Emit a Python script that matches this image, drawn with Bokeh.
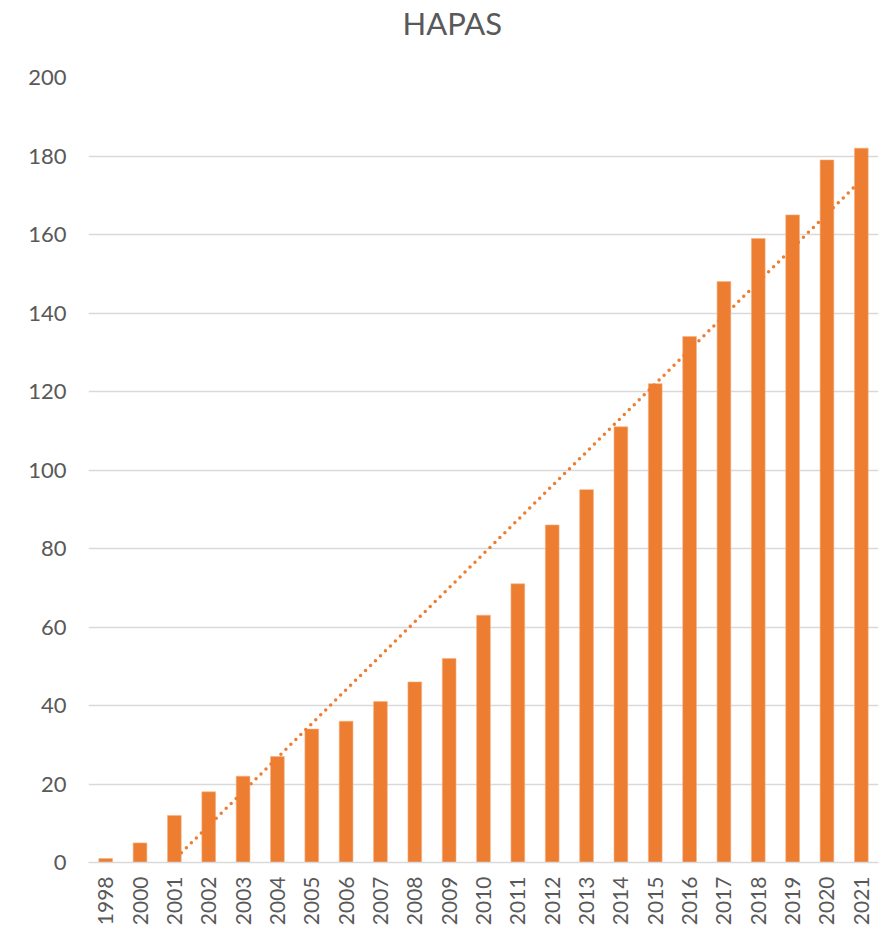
import numpy as np
from bokeh.plotting import figure
from bokeh.models import FixedTicker, ColumnDataSource, Range1d, Title
from bokeh.embed import file_html
from bokeh.resources import INLINE

years = ["1998", "2000", "2001", "2002", "2003", "2004", "2005", "2006", "2007", "2008",
         "2009", "2010", "2011", "2012", "2013", "2014", "2015", "2016", "2017", "2018",
         "2019", "2020", "2021"]
values = [1, 5, 12, 18, 22, 27, 34, 36, 41, 46, 52, 63, 71, 86, 95, 111, 122, 134, 148,
          159, 165, 179, 182]
y_ticks = [0, 20, 40, 60, 80, 100, 120, 140, 160, 180, 200]
title_text = "HAPAS"

ORANGE = "#ED7D31"
TEXT = "#595959"
GRID = "#D9D9D9"
FONT = "Lato"

xs = np.arange(1, len(years) + 1)
p = figure(width=892, height=928, output_backend="svg", toolbar_location=None, title=None,
           x_range=Range1d(0.5, len(years) + 0.5), y_range=Range1d(0, 200),
           min_border_left=88, min_border_right=14, min_border_top=77)

# spacer between plot area and title (closest to the frame), then the title itself
p.add_layout(Title(text=" ", text_font=FONT, text_font_size="10px", standoff=22), "above")
p.add_layout(Title(text=title_text, text_font=FONT, text_font_size="31px",
                   text_font_style="normal", text_color=TEXT, align="left", offset=314,
                   standoff=0), "above")

src = ColumnDataSource(dict(x=xs, top=values))
p.vbar(x="x", top="top", width=0.4, source=src, fill_color=ORANGE, line_color="#F4B183",
       line_width=0.6)

# linear trendline (least squares over category index)
slope, intercept = np.polyfit(xs, values, 1)
x0 = max(1.0, -intercept / slope)
tx = np.array([x0, float(xs[-1])])
ty = slope * tx + intercept
p.line(tx, ty, line_color=ORANGE, line_width=3.5, line_dash="0 7", line_cap="round")

p.xaxis.ticker = FixedTicker(ticks=list(xs))
p.xaxis.major_label_overrides = {int(i): y for i, y in zip(xs, years)}
p.xaxis.major_label_orientation = np.pi / 2
p.yaxis.ticker = FixedTicker(ticks=y_ticks)

for ax in (p.xaxis, p.yaxis):
    ax.major_label_text_font = FONT
    ax.major_label_text_color = TEXT
    ax.major_tick_line_color = None
    ax.minor_tick_line_color = None
p.yaxis.major_label_text_font_size = "22px"
p.xaxis.major_label_text_font_size = "21px"
p.yaxis.axis_line_color = None
p.xaxis.axis_line_color = GRID
p.xaxis.axis_line_width = 1.5
p.yaxis.major_label_standoff = 16
p.xaxis.major_label_standoff = 8

p.xgrid.grid_line_color = None
p.ygrid.grid_line_color = GRID
p.ygrid.grid_line_width = 1.5
p.outline_line_color = None

open("out.html", "w").write(file_html(p, INLINE))
